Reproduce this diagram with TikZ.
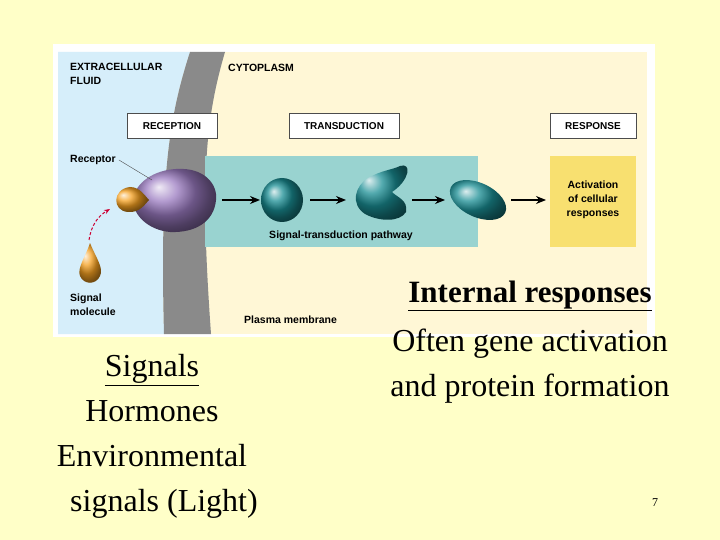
\documentclass[tikz,border=0pt]{standalone}
\usepackage{fontspec}
\setmainfont{Liberation Serif}
\newfontfamily\arl{Liberation Sans}
\usetikzlibrary{arrows.meta}
\definecolor{bg}{HTML}{FFFFC8}
\definecolor{cyto}{HTML}{FFF7D6}
\definecolor{extra}{HTML}{D6EEFA}
\definecolor{memb}{HTML}{8A8A8A}
\definecolor{teal}{HTML}{99D3D0}
\definecolor{prot}{HTML}{1A8E94}
\definecolor{purp}{HTML}{9A7AC0}
\definecolor{orng}{HTML}{F5A020}
\definecolor{resp}{HTML}{F8E070}
\tikzset{x=1pt,y=-1pt,
 lab/.style={font=\arl\bfseries\fontsize{10.5}{14}\selectfont,align=left,anchor=west,inner sep=0pt},
 stage/.style={draw=black!70,fill=white,font=\arl\bfseries\fontsize{10}{12}\selectfont,minimum height=25pt,inner sep=0pt},
 arr/.style={-{Stealth[length=10pt,width=8pt]},line width=1.4pt},
 big/.style={font=\fontsize{32}{45}\selectfont,align=center}}
\begin{document}
\begin{tikzpicture}
\fill[bg] (0,0) rectangle (720,540);
\useasboundingbox (0,0) rectangle (720,540);
\fill[white] (53,44) rectangle (655,337);
\fill[cyto] (58,52) rectangle (647,334);
\fill[extra] (58,52) -- (190,52) .. controls (168,120) and (160,180) .. (164,334) -- (58,334) -- cycle;
\fill[memb] (190,52) -- (225,52) .. controls (205,120) and (200,180) .. (211,334) -- (164,334) .. controls (160,180) and (168,120) .. (190,52) -- cycle;
\node[lab] (ef) at (70,74) {EXTRACELLULAR\\FLUID};
\node[lab] (cy) at (228,68) {CYTOPLASM};
\node[stage,minimum width=90pt] (rec) at (172,126) {RECEPTION};
\node[stage,minimum width=110pt] (tra) at (344,126) {TRANSDUCTION};
\node[stage,minimum width=86pt] (res) at (593,126) {RESPONSE};
\fill[teal] (205,156) rectangle (478,247);
\fill[resp] (550,156) rectangle (636,247);
\node[lab,align=center,anchor=center] (act) at (593,200) {Activation\\of cellular\\responses};
\node[lab,anchor=center] (stp) at (341,236) {Signal-transduction pathway};
\shade[ball color=purp] (176,169) .. controls (205,167) and (218,185) .. (216,200) .. controls (214,222) and (195,233) .. (170,232) .. controls (148,230) and (133,215) .. (133,200) .. controls (135,182) and (155,170) .. (176,169) -- cycle;
\node[coordinate] (rc) at (152,180) {};
\node[lab] (rl) at (70,160) {Receptor};
\draw[black!70,thin] (rl.east) ++(3,0) -- (rc);
\shade[ball color=orng] (130,187) .. controls (140,187) and (145,196) .. (149,200) .. controls (145,204) and (140,213) .. (128,212) .. controls (112,211) and (112,189) .. (130,187) -- cycle;
\shade[ball color=orng] (90,243) .. controls (96,258) and (104,268) .. (100,276) .. controls (96,285) and (84,285) .. (80,276) .. controls (77,268) and (85,258) .. (90,243) -- cycle;
\node[coordinate] (sm) at (89,240) {};
\node[coordinate] (rt) at (110,209) {};
\draw[densely dashed,purple!80!red,line width=1pt,-{Stealth[length=6pt]}] (sm) to[bend left=25] (rt);
\node[lab] (sml) at (70,305) {Signal\\molecule};
\node[lab] (pm) at (244,320) {Plasma membrane};
\shade[ball color=prot] (282,200) circle[x radius=21,y radius=22];
\node[coordinate] (p1) at (260,200) {};
\node[coordinate] (p1r) at (310,200) {};
\shade[ball color=prot] (400,166) .. controls (412,162) and (410,180) .. (392,192) .. controls (398,198) and (408,200) .. (406,212) .. controls (400,222) and (380,222) .. (365,214) .. controls (350,204) and (355,186) .. (368,178) .. controls (382,170) and (392,170) .. (400,166) -- cycle;
\node[coordinate] (p2) at (346,200) {};
\node[coordinate] (p2r) at (412,200) {};
\shade[ball color=prot] (478,200) ellipse[x radius=30,y radius=17,rotate=-25];
\node[coordinate] (p3) at (445,200) {};
\node[coordinate] (p3r) at (511,200) {};
\node[coordinate] (rr) at (222,200) {};
\node[coordinate] (ra) at (546,200) {};
\draw[arr] (rr) -- (p1);
\draw[arr] (p1r) -- (p2);
\draw[arr] (p2r) -- (p3);
\draw[arr] (p3r) -- (ra);
\node[font=\bfseries\fontsize{31}{36}\selectfont] (ir) at (530,296) {\underline{Internal responses}};
\node[big,anchor=north] (og) at (530,325) {Often gene activation\\and protein formation};
\node[big,anchor=north] (sg) at (152,351) {\underline{Signals}\\Hormones\\Environmental\\\hspace*{24pt}signals (Light)};
\node[font=\fontsize{12}{14}\selectfont] (pg) at (655,503) {7};
\end{tikzpicture}
\end{document}
